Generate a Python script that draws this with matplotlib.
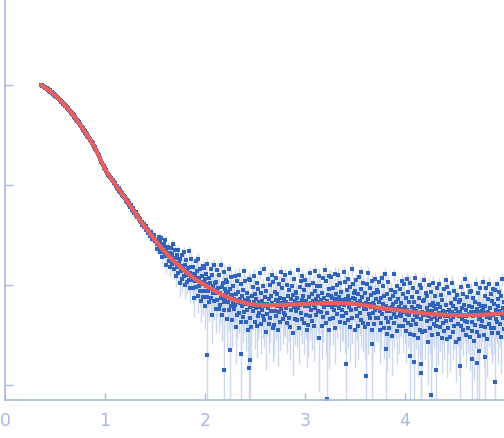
import matplotlib
matplotlib.use("Agg")
import matplotlib.pyplot as plt
import numpy as np

# fitted model curve (q, log10 intensity)
fit_q = [0.36, 0.45, 0.55, 0.65, 0.78, 0.90, 1.00, 1.10, 1.20, 1.30, 1.40, 1.50,
         1.60, 1.70, 1.80, 1.90, 2.00, 2.10, 2.20, 2.30, 2.40, 2.55, 2.75, 3.00,
         3.25, 3.50, 3.75, 4.00, 4.25, 4.50, 4.75, 5.00]
fit_logi = [3.00, 2.94, 2.85, 2.74, 2.56, 2.37, 2.16, 2.01, 1.87, 1.72, 1.58, 1.45,
            1.33, 1.23, 1.14, 1.06, 1.00, 0.94, 0.89, 0.85, 0.82, 0.80, 0.80, 0.81,
            0.82, 0.81, 0.77, 0.74, 0.71, 0.70, 0.70, 0.72]

# spread of the measured points around the fit (log decades) and relative error
noise_q = [0.36, 1.00, 1.20, 1.40, 1.60, 1.80, 2.00, 2.30, 2.60, 5.00]
noise_sd = [0.004, 0.006, 0.012, 0.025, 0.05, 0.08, 0.10, 0.12, 0.13, 0.13]
rel_err = [0.01, 0.03, 0.05, 0.08, 0.13, 0.20, 0.26, 0.30, 0.32, 0.33]

# measurement grid
q_start, q_stop = 0.36, 5.0

# per-point residuals, two digits each: 00..99 -> low..high side of the band
resid_codes = (
    "52476138557044296351365872414966335745802754623948"
    "59436831527446573561502467425538714960334665532857"
    "44623756794830536641583547705226634539576850346143"
    "55326946584073512964473660534275385649673159445270"
    "37614825576643547135506239475830655244764156336049"
    "63405572345146682859533764455742703661482766503958"
    "46693354604175493862562947673558437152406431554865"
    "30574463503668534526614974395643603469514758387242"
    "61355247734058326654416348377045552862504367365946"
    "54713860452965514257346947593153644049773656446233"
    "18634785325671249041581367367952289445610974385582"
    "27496615834058723196532064874411693578572391486206"
    "75345819864763299251147038815625674398325917734588"
    "39602277510865428930577416489335622780541269468521"
    "57833366104976249158377119644587285379056140942668"
    "43157255893162471884502697396813755234902166448059"
    "11783663259548703257861461427629548837076550238346"
    "69279145581681396422735196305985174771346209885540"
    "24875213674479359256207041631584492877583395431872"
    "60388129549923664710755331894264198250266837935714"
    "85491774366128904571125883346521964056782547873263"
    "30925841821967532676489415623780520869438824597335"
    "71226497395513784685316024915067187444862957118148"
    "16654280279352366920578345147338956127547933660290"
    "53793158147047882562399651178456306743751089482264"
    "88406223765134925912684379285591376419824671265835"
    "26579445188361307449872166405913785235972463814770"
    "62117338862755691590445832772395486620845339721657"
    "41845019659633578028714613886035742156914267297950"
    "77296388421569512493376185187347973158127644892654"
    "19704532815710746339982652793467168649712259388347"
    "65369254237846893160177342955528814068149150257661"
    "32865814694197275582386411754890216336875319724496"
    "74512083466234790857914368258437591671529430664180"
    "28638937701855934266278149147560338822574497356912"
    "90452661845215723895582167438629547710634882315673"
    "47137658299140658324705236991761458034922668531585"
    "58873422664578115973309448632184573971168942672860"
    "35629549178027685489431277563193406425825119744687"
    "69245186386092337518654783295613794497376122705441"
)

# isolated low points with error bars reaching the axis floor
outlier_q = [2.02, 2.19, 2.25, 2.36, 2.44, 2.45, 3.22, 3.41, 3.61, 3.67, 3.81, 4.05,
             4.09, 4.16, 4.16, 4.26, 4.31, 4.55, 4.67, 4.72, 4.74, 4.80, 4.90]
outlier_logi = [0.30, 0.15, 0.35, 0.31, 0.17, 0.25, -0.14, 0.21, 0.09, 0.41, 0.36, 0.29,
                0.23, 0.12, 0.21, -0.10, 0.15, 0.19, 0.26, 0.22, 0.34, 0.28, 0.03]

axis_color = "#a7bbe2"
point_color = "#3063bb"
bar_color = "#cbd8ef"
fit_color = "#ea5f5e"


def smooth(xk, yk, xs):
    # cubic hermite through the knots
    xk = np.asarray(xk, dtype=float)
    yk = np.asarray(yk, dtype=float)
    m = np.gradient(yk, xk)
    i = np.clip(np.searchsorted(xk, xs) - 1, 0, len(xk) - 2)
    h = xk[i + 1] - xk[i]
    t = (xs - xk[i]) / h
    h00 = 2 * t**3 - 3 * t**2 + 1
    h10 = t**3 - 2 * t**2 + t
    h01 = -2 * t**3 + 3 * t**2
    h11 = t**3 - t**2
    return h00 * yk[i] + h10 * h * m[i] + h01 * yk[i + 1] + h11 * h * m[i + 1]


codes = np.array([int(resid_codes[k:k + 2]) for k in range(0, len(resid_codes), 2)])
u = (codes - 49.5) / 49.5
levels = 2.8 * u * np.abs(u) ** 0.4   # denser near the fit, thinner at the edges
q = np.linspace(q_start, q_stop, len(levels))
log_fit_at_q = smooth(fit_q, fit_logi, q)
intensity = 10 ** (log_fit_at_q + np.interp(q, noise_q, noise_sd) * levels)
err = np.interp(q, noise_q, rel_err) * 10 ** log_fit_at_q

oq = np.array(outlier_q)
o_int = 10 ** np.array(outlier_logi)
o_err = np.interp(oq, noise_q, rel_err) * 10 ** smooth(fit_q, fit_logi, oq) * 2.5

q_all = np.concatenate([q, oq])
i_all = np.concatenate([intensity, o_int])
e_all = np.concatenate([err, o_err])

fig = plt.figure(figsize=(5.04, 4.38), dpi=100)
ax = fig.add_axes([5 / 504, 38 / 438, 499 / 504, 400 / 438])
ax.set_yscale("log")

ax.errorbar(q_all, i_all, yerr=e_all, fmt="none", ecolor=bar_color, elinewidth=1.0,
            zorder=1)
ax.plot(q_all, i_all, "s", color=point_color, markersize=2.2, markeredgewidth=0,
        zorder=2)
q_line = np.linspace(fit_q[0], fit_q[-1], 400)
ax.plot(q_line, 10 ** smooth(fit_q, fit_logi, q_line), color=fit_color, linewidth=3.0,
        solid_capstyle="round", zorder=3)

ax.set_xlim(0, 4.99)
ax.set_ylim(10 ** -0.15, 10 ** 3.85)
ax.set_xticks([0, 1, 2, 3, 4])
ax.set_yticks([1, 10, 100, 1000])
ax.yaxis.set_minor_locator(matplotlib.ticker.NullLocator())
ax.set_yticklabels([])

for side in ["top", "right"]:
    ax.spines[side].set_visible(False)
for side in ["left", "bottom"]:
    ax.spines[side].set_color(axis_color)
    ax.spines[side].set_linewidth(1.2)

ax.tick_params(axis="x", direction="in", length=5, width=1.0, color=axis_color,
               labelcolor=axis_color, labelsize=12.5, pad=9)
ax.tick_params(axis="y", direction="in", length=6, width=1.0, color=axis_color)

fig.savefig("out.png", dpi=100)
